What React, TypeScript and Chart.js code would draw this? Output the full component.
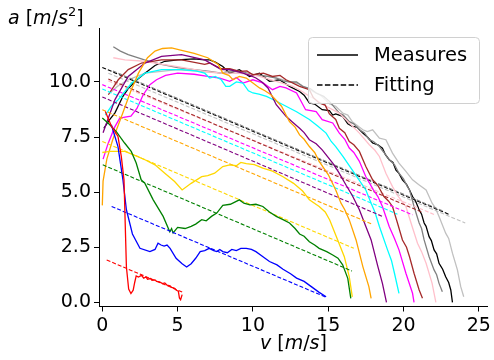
import React, { useEffect, useRef } from "react";
import { Chart, registerables } from "chart.js";

Chart.register(...registerables);

// ---------- data (v [m/s], a [m/s^2]) ----------
const xTickValues = [0, 5, 10, 15, 20, 25];
const yTickValues = [0, 2.5, 5, 7.5, 10];
const seriesNames = ["red", "blue", "green", "gold", "orange", "purple", "cyan", "magenta", "brown", "pink", "gray", "black", "silver"];

const measRed = [[0.2, 8.66], [0.6, 8.0], [1.04, 7.53], [1.26, 6.62], [1.44, 5.56], [1.6, 1.6], [1.75, 0.6], [1.9, 0.4], [2.05, 0.55], [2.15, 0.9], [2.25, 1.2], [2.4, 1.15], [2.6, 1.22], [2.75, 1.1], [2.9, 1.15], [3.0, 1.05], [3.2, 1.08], [3.3, 1.0], [3.5, 1.02], [3.6, 0.95], [3.8, 0.93], [4.0, 0.85], [4.15, 0.88], [4.3, 0.78], [4.5, 0.75], [4.6, 0.68], [4.8, 0.64], [4.9, 0.56], [5.05, 0.5], [5.12, 0.2], [5.2, 0.12], [5.3, 0.35]];
const measBlue = [[0.6, 8.06], [1.04, 7.07], [1.37, 5.56], [1.6, 4.2], [2.0, 3.1], [2.5, 2.45], [3.16, 2.3], [3.5, 2.4], [3.7, 2.68], [3.9, 2.6], [4.1, 2.55], [4.3, 2.6], [4.5, 2.45], [4.9, 2.0], [5.3, 1.75], [5.6, 1.6], [5.9, 1.75], [6.2, 2.0], [6.5, 2.3], [6.8, 2.35], [7.1, 2.45], [7.4, 2.35], [7.6, 2.3], [7.8, 2.4], [8.0, 2.3], [8.3, 2.25], [8.6, 2.4], [8.9, 2.35], [9.2, 2.45], [9.56, 2.45], [9.9, 2.4], [10.2, 2.3], [10.6, 2.1], [11.1, 1.85], [11.6, 1.7], [12.0, 1.5], [12.5, 1.3], [12.9, 1.1], [13.4, 0.95], [13.9, 0.7], [14.4, 0.45], [14.86, 0.25]];
const measGreen = [[0, 8.36], [0.38, 8.14], [0.93, 7.75], [1.48, 7.23], [1.92, 6.85], [2.25, 6.32], [2.58, 5.56], [2.83, 5.4], [3.38, 4.65], [4.04, 3.9], [4.48, 3.2], [4.6, 3.35], [4.7, 3.15], [5.0, 3.4], [5.5, 3.35], [5.9, 3.45], [6.2, 3.55], [6.6, 3.75], [6.9, 3.7], [7.25, 3.9], [7.6, 4.05], [8.0, 4.4], [8.5, 4.45], [9.1, 4.65], [9.4, 4.5], [9.8, 4.42], [10.2, 4.45], [10.66, 4.35], [11.1, 4.1], [11.55, 3.9], [12.0, 3.75], [12.43, 3.6], [12.8, 3.35], [13.1, 3.1], [13.4, 3.0], [13.75, 2.75], [14.1, 2.6], [14.4, 2.45], [14.9, 2.3], [15.3, 2.15], [15.65, 2.0], [15.96, 1.7], [16.3, 1.09], [16.5, 0.18]];
const measGold = [[0, 6.8], [0.5, 6.85], [1.5, 6.85], [2.05, 6.7], [2.83, 6.47], [3.5, 6.24], [4.15, 5.86], [4.8, 5.48], [5.3, 5.1], [5.9, 5.4], [6.6, 5.7], [7.0, 5.75], [7.46, 5.86], [8.0, 6.16], [8.46, 6.24], [8.9, 6.2], [9.2, 6.35], [9.56, 6.29], [10.1, 6.25], [10.66, 6.09], [11.3, 5.95], [12.0, 5.7], [12.7, 5.4], [13.3, 5.05], [13.75, 4.65], [14.4, 4.35], [14.8, 4.1], [15.1, 3.74], [15.63, 2.83], [16.07, 2.07], [16.4, 1.16], [16.6, 0.25]];
const measOrange = [[0, 4.4], [0.05, 5.5], [0.3, 6.5], [0.7, 7.4], [1.2, 8.3], [1.9, 9.6], [2.4, 10.4], [3.0, 11.1], [3.5, 11.4], [4.0, 11.52], [4.6, 11.55], [5.2, 11.45], [6.1, 11.3], [7.0, 11.1], [7.7, 10.8], [8.0, 10.4], [8.4, 10.3], [8.68, 10.1], [9.1, 10.25], [9.56, 10.18], [10.0, 9.95], [10.44, 9.73], [10.8, 9.6], [11.2, 9.42], [11.9, 8.9], [12.2, 8.5], [12.43, 8.2], [12.8, 7.95], [13.1, 7.6], [13.4, 7.4], [13.75, 7.07], [14.1, 6.8], [14.4, 6.4], [15.0, 5.8], [15.5, 5.1], [15.85, 4.5], [16.1, 4.2], [16.4, 3.74], [16.85, 2.83], [17.3, 1.62], [17.7, 0.71], [17.85, 0.18]];
const measPurple = [[0.05, 7.7], [0.84, 9.2], [1.72, 10.25], [2.83, 10.86], [3.93, 11.16], [5.26, 11.24], [6.8, 11.0], [7.9, 10.56], [8.46, 10.56], [9.34, 10.4], [9.8, 10.3], [10.2, 10.18], [10.6, 10.0], [11.0, 9.73], [11.55, 8.97], [12.2, 8.44], [12.6, 8.2], [13.1, 7.9], [13.4, 7.7], [13.75, 7.38], [14.2, 7.2], [14.6, 6.92], [15.3, 6.32], [15.7, 5.9], [16.2, 5.3], [16.6, 4.85], [17.07, 4.2], [17.5, 3.44], [17.85, 2.83], [18.3, 1.62], [18.6, 0.86], [18.87, 0.0]];
const measCyan = [[0.2, 8.5], [0.6, 8.9], [1.06, 9.2], [1.95, 9.95], [2.83, 10.4], [3.93, 10.56], [5.26, 10.56], [6.2, 10.5], [6.8, 10.4], [7.13, 10.18], [7.5, 10.25], [7.9, 10.1], [8.2, 9.8], [8.46, 9.8], [8.9, 10.0], [9.34, 9.95], [9.7, 9.6], [10.0, 9.5], [10.4, 9.45], [10.9, 9.35], [11.5, 9.15], [12.2, 8.9], [12.9, 8.65], [13.75, 8.3], [14.3, 8.0], [14.86, 7.68], [15.2, 7.3], [15.5, 7.07], [16.0, 6.6], [16.5, 6.1], [17.0, 5.6], [17.5, 5.1], [17.85, 4.5], [18.1, 4.1], [18.4, 3.44], [18.94, 2.38], [19.2, 1.9], [19.4, 1.32], [19.7, 0.41]];
const measMagenta = [[0.05, 6.5], [0.38, 7.2], [0.82, 7.95], [1.15, 8.35], [1.5, 8.4], [1.9, 8.45], [2.3, 8.8], [2.7, 9.4], [3.16, 9.88], [3.6, 10.1], [4.2, 10.3], [5.0, 10.4], [6.1, 10.35], [7.0, 10.25], [7.8, 10.18], [8.46, 10.03], [8.9, 10.2], [9.34, 9.95], [10.0, 10.1], [10.7, 9.95], [11.3, 9.65], [11.8, 9.8], [12.2, 9.73], [12.9, 9.5], [13.5, 8.74], [14.2, 8.66], [14.6, 8.29], [15.3, 8.14], [15.74, 7.68], [16.1, 7.4], [16.4, 7.0], [16.7, 6.8], [17.07, 6.4], [17.5, 5.7], [18.0, 5.1], [18.3, 4.8], [18.6, 4.35], [19.05, 3.44], [19.4, 2.9], [19.7, 2.38], [20.16, 1.32], [20.6, 0.41], [20.7, 0.0]];
const measBrown = [[0.4, 9.42], [1.06, 10.1], [1.72, 10.56], [2.6, 10.86], [3.93, 11.0], [5.26, 11.0], [6.8, 10.8], [7.13, 10.86], [7.9, 10.6], [8.46, 10.6], [9.12, 10.48], [9.6, 10.5], [10.0, 10.33], [10.7, 10.4], [11.3, 10.25], [11.8, 10.3], [12.2, 10.1], [13.1, 9.8], [13.75, 9.65], [14.0, 9.3], [14.4, 9.05], [14.8, 8.95], [15.08, 8.55], [15.5, 8.3], [15.74, 7.9], [16.1, 7.7], [16.4, 7.3], [16.7, 7.15], [17.07, 6.85], [17.5, 6.16], [17.95, 5.56], [18.3, 5.3], [18.7, 4.8], [19.0, 4.6], [19.27, 4.35], [19.6, 3.6], [19.93, 2.83], [20.2, 2.5], [20.4, 2.07], [20.7, 1.32], [21.04, 0.56], [21.26, 0.18]];
const measPink = [[0.73, 11.1], [1.5, 11.0], [2.83, 10.94], [4.0, 10.8], [5.0, 10.7], [6.8, 10.48], [7.9, 10.4], [9.34, 10.4], [10.44, 10.25], [11.55, 10.03], [12.65, 9.8], [13.2, 9.6], [13.75, 9.35], [14.3, 9.15], [14.86, 8.9], [15.7, 8.6], [16.4, 8.14], [17.07, 7.68], [17.73, 7.15], [18.1, 6.9], [18.4, 6.62], [18.83, 5.86], [19.27, 5.25], [19.6, 4.85], [20.16, 4.35], [20.5, 3.6], [20.93, 2.68], [21.2, 2.3], [21.5, 1.77], [21.9, 0.86], [22.15, 0.0]];
const measGray = [[0.73, 11.6], [1.2, 11.4], [1.72, 11.24], [2.8, 11.0], [3.93, 10.8], [5.0, 10.65], [6.1, 10.56], [7.13, 10.48], [7.9, 10.4], [8.5, 10.5], [9.34, 10.45], [10.0, 10.35], [10.44, 10.3], [11.0, 10.25], [11.55, 10.18], [12.0, 10.05], [12.43, 10.0], [12.9, 10.0], [13.3, 9.8], [13.8, 9.7], [14.2, 9.5], [14.7, 9.35], [15.08, 9.12], [15.74, 8.59], [16.0, 8.5], [16.4, 8.2], [16.7, 8.1], [17.07, 7.83], [17.4, 7.7], [17.73, 7.38], [18.0, 7.3], [18.4, 7.07], [18.7, 6.8], [19.05, 6.47], [19.4, 6.25], [19.7, 5.86], [20.0, 5.6], [20.26, 5.25], [20.4, 5.1], [20.7, 4.35], [21.04, 3.6], [21.2, 3.35], [21.37, 2.83], [21.7, 2.07], [22.03, 1.47], [22.2, 1.25], [22.36, 0.86], [22.58, 0.48]];
const measBlack = [[0.1, 7.9], [0.5, 8.3], [0.84, 8.6], [1.37, 9.35], [1.72, 9.7], [2.3, 10.1], [2.83, 10.4], [3.5, 10.75], [4.15, 10.94], [5.0, 11.0], [6.1, 11.05], [6.8, 11.0], [7.13, 11.0], [7.5, 10.9], [8.0, 10.7], [8.46, 10.4], [9.1, 10.56], [9.78, 10.25], [10.44, 10.4], [11.1, 10.03], [11.77, 10.1], [12.43, 9.8], [13.1, 9.57], [13.4, 9.4], [13.75, 9.05], [14.1, 9.0], [14.6, 8.74], [15.08, 8.7], [15.3, 8.5], [15.5, 8.55], [15.96, 8.44], [16.3, 8.1], [16.6, 7.98], [16.9, 7.95], [17.3, 7.68], [17.6, 7.5], [17.95, 7.23], [18.3, 7.15], [18.6, 7.0], [18.8, 6.7], [19.05, 6.47], [19.3, 6.35], [19.5, 6.0], [19.7, 5.85], [19.93, 5.56], [20.2, 5.35], [20.4, 5.1], [20.6, 4.8], [20.8, 4.6], [21.04, 4.2], [21.2, 4.0], [21.37, 3.6], [21.5, 3.45], [21.7, 2.98], [21.85, 2.8], [22.03, 2.38], [22.2, 2.2], [22.36, 1.77], [22.6, 1.5], [22.8, 1.16], [23.0, 0.9], [23.14, 0.56], [23.25, 0.0]];
const measSilver = [[0.5, 9.5], [1.0, 9.8], [1.72, 10.1], [2.83, 10.4], [5.0, 10.56], [7.9, 10.4], [9.0, 10.4], [10.5, 10.3], [11.5, 10.2], [12.5, 10.0], [13.1, 9.9], [13.75, 9.65], [14.5, 9.4], [15.1, 9.0], [15.5, 8.9], [15.96, 8.59], [16.3, 8.5], [16.6, 8.2], [17.3, 7.83], [17.6, 7.75], [17.95, 7.83], [18.4, 7.45], [18.83, 7.38], [19.27, 6.77], [19.7, 6.32], [20.16, 5.94], [20.6, 5.56], [21.0, 5.35], [21.5, 5.1], [21.9, 4.5], [22.1, 4.3], [22.36, 3.89], [22.8, 3.14], [23.0, 2.9], [23.25, 2.23], [23.58, 1.47], [23.8, 0.71], [24.0, 0.25]];

const fitRed = [[0.29, 1.92], [5.36, 0.45]];
const fitBlue = [[0.62, 4.35], [14.86, 0.23]];
const fitGreen = [[0.03, 6.24], [16.58, 1.42]];
const fitGold = [[0, 7.3], [16.7, 2.45]];
const fitOrange = [[0, 8.74], [17.9, 3.55]];
const fitPurple = [[0, 9.32], [18.6, 3.9]];
const fitCyan = [[0, 9.68], [19.6, 4.0]];
const fitMagenta = [[0, 9.88], [20.6, 3.97]];
const fitBrown = [[0.4, 10.13], [21.2, 4.1]];
const fitPink = [[0.4, 10.05], [22.1, 3.97]];
const fitGray = [[0.7, 10.5], [22.6, 4.15]];
const fitBlack = [[0, 10.66], [23.1, 3.97]];
const fitSilver = [[0.4, 10.4], [24.1, 3.6]];

const measures = [measRed, measBlue, measGreen, measGold, measOrange, measPurple, measCyan, measMagenta, measBrown, measPink, measGray, measBlack, measSilver];
const fits = [fitRed, fitBlue, fitGreen, fitGold, fitOrange, fitPurple, fitCyan, fitMagenta, fitBrown, fitPink, fitGray, fitBlack, fitSilver];
const legendLabels = ["Measures", "Fitting"];

// ---------- styles ----------
const colorMap: Record<string, string> = {
  red: "#ff0000", blue: "#0000ff", green: "#008000", gold: "#ffd700", orange: "#ffa500",
  purple: "#800080", cyan: "#00ffff", magenta: "#ff00ff", brown: "#a52a2a", pink: "#ffc0cb",
  gray: "#808080", black: "#000000", silver: "#c0c0c0",
};
const FONT = "'DejaVu Sans', sans-serif";

const toXY = (pts: number[][]) => pts.map(([x, y]) => ({ x, y }));

function drawRich(ctx: CanvasRenderingContext2D, parts: { t: string; it?: boolean; sup?: boolean }[], x: number, y: number, size: number, align: "left" | "center") {
  const fontFor = (p: any) => `${p.it ? "italic " : ""}${p.sup ? Math.round(size * 0.7) : size}px ${FONT}`;
  let total = 0;
  for (const p of parts) { ctx.font = fontFor(p); total += ctx.measureText(p.t).width; }
  let cx = align === "center" ? x - total / 2 : x;
  ctx.textAlign = "left";
  ctx.textBaseline = "alphabetic";
  ctx.fillStyle = "#000";
  for (const p of parts) {
    ctx.font = fontFor(p);
    ctx.fillText(p.t, cx, p.sup ? y - size * 0.42 : y);
    cx += ctx.measureText(p.t).width;
  }
}

const overlayPlugin = {
  id: "overlay",
  afterDraw(chart: any) {
    const ctx: CanvasRenderingContext2D = chart.ctx;
    ctx.save();
    // axis titles
    drawRich(ctx, [{ t: "a", it: true }, { t: " [" }, { t: "m", it: true }, { t: "/" }, { t: "s", it: true }, { t: "2", sup: true }, { t: "]" }], 8, 24, 19, "left");
    const ca = chart.chartArea;
    drawRich(ctx, [{ t: "v", it: true }, { t: " [" }, { t: "m", it: true }, { t: "/" }, { t: "s", it: true }, { t: "]" }], (ca.left + ca.right) / 2, 349, 19, "center");
    // legend
    const lx = 308.5, ly = 37.5, lw = 171, lh = 66, r = 4;
    ctx.beginPath();
    ctx.moveTo(lx + r, ly);
    ctx.arcTo(lx + lw, ly, lx + lw, ly + lh, r);
    ctx.arcTo(lx + lw, ly + lh, lx, ly + lh, r);
    ctx.arcTo(lx, ly + lh, lx, ly, r);
    ctx.arcTo(lx, ly, lx + lw, ly, r);
    ctx.closePath();
    ctx.fillStyle = "rgba(255,255,255,0.8)";
    ctx.fill();
    ctx.strokeStyle = "#d0d0d0";
    ctx.lineWidth = 1;
    ctx.stroke();
    const rows = [55, 85];
    rows.forEach((yy, i) => {
      ctx.beginPath();
      ctx.strokeStyle = "#000";
      ctx.lineWidth = 1.5;
      ctx.setLineDash(i === 1 ? [5.5, 2.4] : []);
      ctx.moveTo(317, yy);
      ctx.lineTo(358, yy);
      ctx.stroke();
      ctx.setLineDash([]);
      ctx.font = `19.5px ${FONT}`;
      ctx.fillStyle = "#000";
      ctx.textAlign = "left";
      ctx.textBaseline = "middle";
      ctx.fillText(legendLabels[i], 374, yy + 1);
    });
    ctx.restore();
  },
};

export default function App() {
  const ref = useRef<HTMLCanvasElement>(null);
  useEffect(() => {
    if (!ref.current) return;
    const datasets: any[] = [];
    seriesNames.forEach((name, i) => {
      const c = colorMap[name];
      datasets.push({
        label: name + " measures",
        data: toXY(measures[i]),
        borderColor: c,
        backgroundColor: c,
        borderWidth: 1.3,
        pointRadius: 0,
        tension: 0,
        fill: false,
      });
      datasets.push({
        label: name + " fitting",
        data: toXY(fits[i]),
        borderColor: c,
        borderWidth: 1.1,
        borderDash: [4, 2],
        pointRadius: 0,
        fill: false,
      });
    });
    const tickFont = { family: FONT, size: 19 };
    const chart = new Chart(ref.current, {
      type: "line",
      data: { datasets },
      options: {
        animation: false,
        responsive: false,
        devicePixelRatio: 1,
        layout: { padding: { top: 28, right: 5, left: 0, bottom: 0 } },
        plugins: { legend: { display: false }, tooltip: { enabled: false } },
        scales: {
          x: {
            type: "linear",
            min: -0.22,
            max: 25.6,
            afterBuildTicks: (s: any) => { s.ticks = xTickValues.map((v) => ({ value: v })); },
            afterFit: (s: any) => { s.height = 53.5; },
            ticks: { font: tickFont, color: "#000", padding: 3, maxRotation: 0, autoSkip: false, callback: (v: any) => String(v) },
            grid: { drawOnChartArea: false, drawTicks: true, tickLength: 5, tickColor: "#000", tickWidth: 1 },
            border: { display: true, color: "#000", width: 1 },
          },
          y: {
            type: "linear",
            min: -0.19,
            max: 12.45,
            afterBuildTicks: (s: any) => { s.ticks = yTickValues.map((v) => ({ value: v })); },
            afterFit: (s: any) => { s.width = 99; },
            ticks: { font: tickFont, color: "#000", padding: 3, autoSkip: false, callback: (v: any) => Number(v).toFixed(1) },
            grid: { drawOnChartArea: false, drawTicks: true, tickLength: 5, tickColor: "#000", tickWidth: 1 },
            border: { display: true, color: "#000", width: 1 },
          },
        },
      },
      plugins: [overlayPlugin],
    } as any);
    return () => chart.destroy();
  }, []);
  return (
    <div style={{ position: "absolute", left: 0, top: 0, width: 494, height: 360, background: "#fff" }}>
      <canvas ref={ref} width={494} height={360} style={{ display: "block" }} />
    </div>
  );
}
